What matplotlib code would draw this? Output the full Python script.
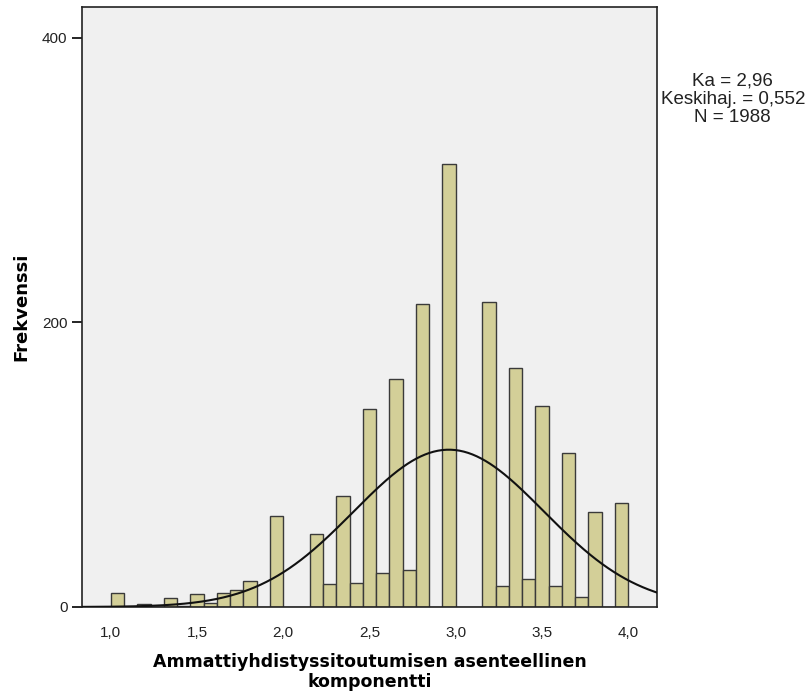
import numpy as np
import matplotlib
matplotlib.use("Agg")
import matplotlib.pyplot as plt

# histogram: 39 bins of width 1/13 between 1 and 4
bin_start = 1.0
bin_end = 4.0
counts = [10, 0, 2, 0, 6, 1, 9, 3, 10, 12, 18, 0, 64, 0, 0,
          51, 16, 78, 17, 139, 24, 160, 26, 213, 0, 311, 0, 0,
          214, 15, 168, 20, 141, 15, 108, 7, 67, 0, 73]

mean = 2.96
sd = 0.552
n_obs = 1988

x_ticks = [1.0, 1.5, 2.0, 2.5, 3.0, 3.5, 4.0]
x_tick_labels = ["1,0", "1,5", "2,0", "2,5", "3,0", "3,5", "4,0"]
y_ticks = [0, 200, 400]

BAR_COLOR = "#d3cf98"
EDGE_COLOR = "#3a3a3a"
BG_COLOR = "#f0f0f0"

fig = plt.figure(figsize=(8.07, 6.91), dpi=100)
ax = fig.add_axes([0.1016, 0.1216, 0.7125, 0.8683])
ax.set_facecolor(BG_COLOR)

edges = np.linspace(bin_start, bin_end, len(counts) + 1)
width = edges[1] - edges[0]
ax.bar(edges[:-1], counts, width=width, align="edge",
       color=BAR_COLOR, edgecolor=EDGE_COLOR, linewidth=1.0, zorder=2)

ax.set_xlim(0.8333, 4.1667)
ax.set_ylim(0, 421.6)

# normal curve scaled to counts
xs = np.linspace(0.8333, 4.1667, 400)
ys = n_obs * width * np.exp(-0.5 * ((xs - mean) / sd) ** 2) / (sd * np.sqrt(2 * np.pi))
ax.plot(xs, ys, color="#111111", linewidth=1.5, zorder=3)

ax.set_xticks(x_ticks)
ax.set_xticklabels(x_tick_labels)
ax.set_yticks(y_ticks)
ax.tick_params(axis="x", length=0, pad=14, labelsize=11, labelcolor="#222222")
ax.tick_params(axis="y", length=7, width=1.2, labelsize=11, labelcolor="#222222")
for lab in ax.get_xticklabels() + ax.get_yticklabels():
    lab.set_family("Liberation Sans")

for s in ax.spines.values():
    s.set_color("#222222")
    s.set_linewidth(1.2)

ax.set_xlabel("Ammattiyhdistyssitoutumisen asenteellinen\nkomponentti",
              fontsize=12.5, fontweight="bold", labelpad=9, linespacing=1.12)
ax.set_ylabel("Frekvenssi", fontsize=13, fontweight="bold", labelpad=8)

stats = f"Ka = 2,96\nKeskihaj. = 0,552\nN = {n_obs}"
fig.text(0.908, 0.895, stats, ha="center", va="top", fontsize=13.5,
         family="Liberation Sans", color="#222222", linespacing=1.08)

fig.savefig("out.png", dpi=100)
